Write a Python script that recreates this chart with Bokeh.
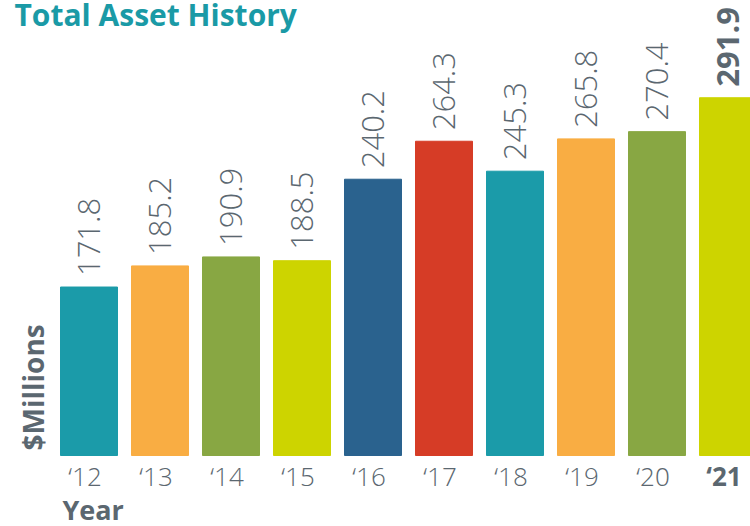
import math
from bokeh.plotting import figure
from bokeh.models import Range1d, ColumnDataSource
from bokeh.core.properties import value
from bokeh.embed import file_html
from bokeh.resources import INLINE

# ---- data ----
years = ["‘12", "‘13", "‘14", "‘15", "‘16", "‘17", "‘18", "‘19", "‘20", "‘21"]
assets = [171.8, 185.2, 190.9, 188.5, 240.2, 264.3, 245.3, 265.8, 270.4, 291.9]
bar_colors = ["#1b9ba9", "#f9ad43", "#88a743", "#cdd400", "#2a628e",
              "#d63c26", "#1b9ba9", "#f9ad43", "#88a743", "#cdd400"]
highlight_year = "‘21"
title_text = "Total Asset History"
y_title = "$Millions"
x_title = "Year"

# ---- layout constants (pixels) ----
GRAY = "#5b6770"
TEAL = "#1a9aa6"
FONT = "Open Sans"
LIGHT = "Open Sans Light"
W, H = 750, 526
BASE_PX = 455       # screen y of the bar baseline
Y0 = 64.9           # value at bar baseline
PX = 1.576          # pixels per unit
SLOT = 71.0         # pixels per category
FIRST_PX = 88.5     # screen x of first category centre
XS = -FIRST_PX / SLOT


def dx(px):
    return XS + px / SLOT


def dy(py):
    return Y0 + (BASE_PX - py) / PX


xs = list(range(len(years)))
labels = [f"{v:.1f}" for v in assets]
styles = ["bold" if y == highlight_year else "normal" for y in years]
fonts = [FONT if y == highlight_year else LIGHT for y in years]

src = ColumnDataSource(dict(x=xs, top=assets, color=bar_colors, label=labels,
                            style=styles, font=fonts, year=years))

p = figure(width=W, height=H, output_backend="svg", toolbar_location=None,
           x_range=Range1d(dx(0), dx(W)), y_range=Range1d(dy(H), dy(0)),
           x_axis_location=None, y_axis_location=None,
           min_border=0, min_border_left=0, min_border_right=0,
           min_border_top=0, min_border_bottom=0)
p.outline_line_color = None
p.xgrid.visible = False
p.ygrid.visible = False
p.background_fill_color = "white"

# bars
p.vbar(x="x", top="top", bottom=Y0, width=57 / SLOT, color="color", source=src)

# value labels above bars
p.text(x="x", y="top", text="label", source=src, angle=math.pi / 2,
       text_align="left", text_baseline="middle", y_offset=-11,
       text_font="font", text_font_size="31px", text_color=GRAY,
       text_font_style="style")

# category labels under bars
p.text(x="x", y=dy(475), text="year", source=src, x_offset=-4,
       text_align="center", text_baseline="alphabetic",
       text_font="font", text_font_size="26px", text_color=GRAY,
       text_font_style="style")

# axis titles and chart title
p.text(x=[dx(62)], y=[dy(509)], text=[x_title], text_align="left",
       text_baseline="alphabetic", text_font=value(FONT), text_font_size="27px",
       text_font_style="bold", text_color=GRAY)

p.text(x=[dx(32)], y=[dy(450)], text=[y_title], angle=math.pi / 2, text_align="left",
       text_baseline="alphabetic", text_font=value(FONT), text_font_size="28px",
       text_font_style="bold", text_color=GRAY)

p.text(x=[dx(14)], y=[dy(14)], text=[title_text], text_align="left",
       text_baseline="alphabetic", text_font=value(FONT), text_font_size="30px",
       text_font_style="bold", text_color=TEAL)

open("out.html", "w").write(file_html(p, INLINE))
